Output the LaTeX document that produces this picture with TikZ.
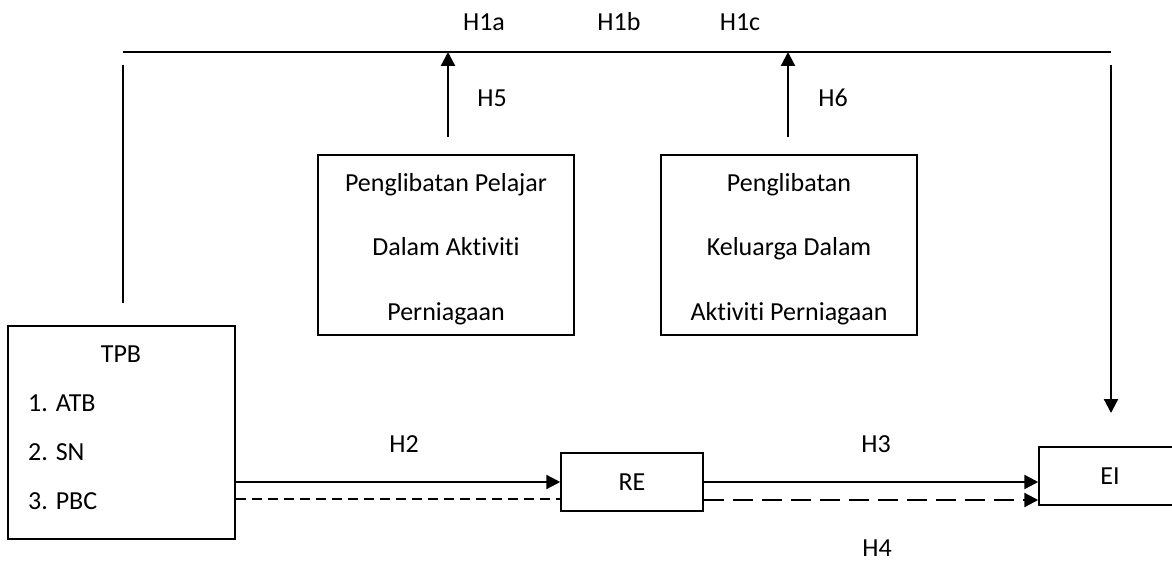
\documentclass[tikz,border=0pt]{standalone}
\usepackage{fontspec}
\setmainfont{Carlito}[Ligatures={NoCommon}]
\usetikzlibrary{arrows.meta}
\begin{document}
\begin{tikzpicture}[x=1pt,y=-1pt,
  box/.style={draw, line width=1.5pt, inner sep=0pt, font=\fontsize{26}{31}\selectfont},
  lbl/.style={anchor=base, inner sep=0pt, font=\fontsize{26}{31}\selectfont},
  lblw/.style={anchor=base west, inner sep=0pt, font=\fontsize{26}{31}\selectfont},
  arr/.style={line width=2.3pt, -{Triangle[length=14pt,width=14pt]}},
  frameline/.style={line width=1.6pt},
  vline/.style={line width=2pt},
  dshort/.style={line width=2pt, dash pattern=on 10pt off 6pt},
  dlong/.style={line width=2.3pt, dash pattern=on 20pt off 9pt, -{Triangle[length=14pt,width=14pt]}}]
\useasboundingbox (0,0) rectangle (1172,561);
\clip (0,0) rectangle (1172,561);

% boxes
\node[box, minimum width=227pt, minimum height=213pt] (tpb) at (121.5,432.5) {};
\node[box, minimum width=256pt, minimum height=180pt] (b1) at (446,245) {};
\node[box, minimum width=256pt, minimum height=180pt] (b2) at (789,245) {};
\node[box, minimum width=142pt, minimum height=58pt] (re) at (632,482) {RE};
\node[box, minimum width=142pt, minimum height=58pt] (ei) at (1110,476) {EI};

% box texts
\node[lbl] (tpbt) at (121,362) {TPB};
\node[lblw] (tpb1) at (28,411) {1. ATB};
\node[lblw] (tpb2) at (28,460) {2. SN};
\node[lblw] (tpb3) at (28,509) {3. PBC};

\node[lbl] (b1a) at (446,192) {Penglibatan Pelajar};
\node[lbl] (b1b) at (446,256) {Dalam Aktiviti};
\node[lbl] (b1c) at (446,320) {Perniagaan};

\node[lbl] (b2a) at (789,192) {Penglibatan};
\node[lbl] (b2b) at (789,256) {Keluarga Dalam};
\node[lbl] (b2c) at (789,320) {Aktiviti Perniagaan};

% top frame
\coordinate (tl) at (123,52);
\coordinate (tr) at (1111,52);
\draw[frameline] (tl) -- (tr);
\coordinate (la) at (123,65);
\coordinate (lb) at (123,303);
\draw[vline] (la) -- (lb);
\coordinate (ra) at (1111,65);
\coordinate (rb) at (1111,413);
\draw[arr] (ra) -- (rb);

% H5, H6 arrows
\coordinate (h5a) at (448,137);
\draw[arr] (h5a) -- (h5a |- tl);
\coordinate (h6a) at (788,137);
\draw[arr] (h6a) -- (h6a |- tl);

% H2, H3, H4
\draw[arr] (tpb.east |- re.west) -- (re.west);
\coordinate (d1) at ([yshift=-17pt]re.west);
\draw[dshort] (tpb.east |- d1) -- (d1);
\draw[arr] (re.east) -- (re.east -| ei.west);
\coordinate (d2) at ([yshift=-18pt]re.east);
\draw[dlong] (d2) -- (d2 -| ei.west);

% labels
\node[lbl] (h1a) at (484,31) {H1a};
\node[lbl] (h1b) at (619,31) {H1b};
\node[lbl] (h1c) at (740,31) {H1c};
\node[lbl] (h5) at (492,107) {H5};
\node[lbl] (h6) at (833,107) {H6};
\node[lbl] (h2) at (404,452) {H2};
\node[lbl] (h3) at (876,452) {H3};
\node[lbl] (h4) at (877,556) {H4};
\end{tikzpicture}
\end{document}
